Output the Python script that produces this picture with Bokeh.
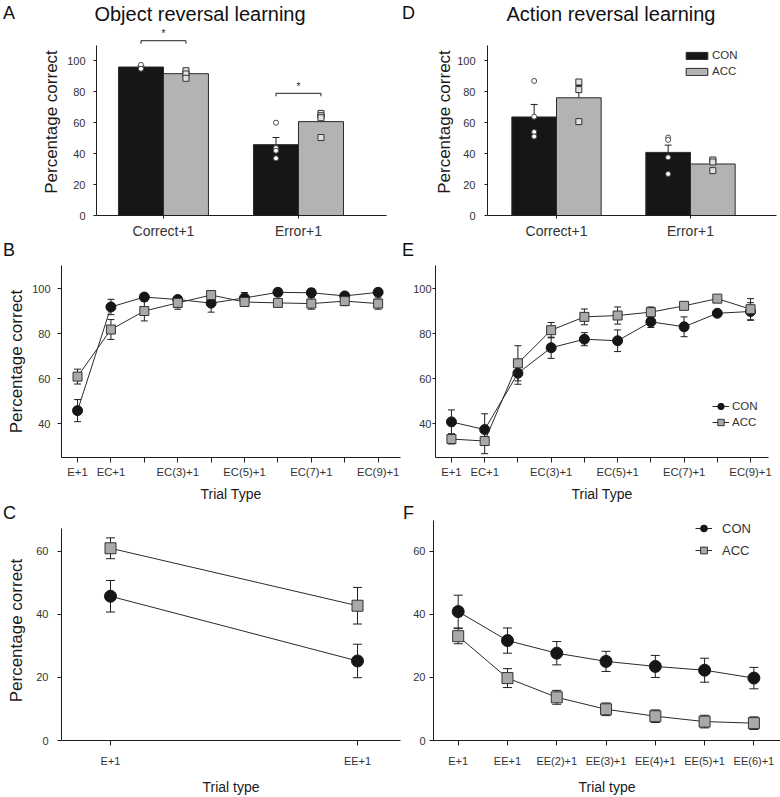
import numpy as np
from bokeh.plotting import figure
from bokeh.models import (ColumnDataSource, Whisker, TeeHead, Label, Legend, LegendItem,
                          FixedTicker, Range1d, Arrow, Div)
from bokeh.layouts import column, row
from bokeh.embed import file_html
from bokeh.resources import INLINE

# ---------------- data ----------------
bar_groups = ["Correct+1", "Error+1"]
bar_ticks = [0, 20, 40, 60, 80, 100]

# A: object reversal learning (bars, mean + SEM, individual animals)
obj_con_mean = [96.0, 45.8]
obj_con_sem = [0.7, 4.6]
obj_acc_mean = [91.7, 60.7]
obj_acc_sem = [0.9, 3.2]
obj_con_pts_correct = [97.4, 94.9]
obj_acc_pts_correct = [93.6, 91.5, 88.7]
obj_con_pts_error = [60.0, 43.6, 41.9, 37.0]
obj_acc_pts_error = [66.0, 64.5, 63.2, 50.4]
obj_sig_level = [113.0, 79.0]
obj_sig_text = ["*", "*"]

# D: action reversal learning
act_con_mean = [63.7, 40.8]
act_con_sem = [8.1, 4.7]
act_acc_mean = [76.1, 33.3]
act_acc_sem = [8.0, 2.5]
act_con_pts_correct = [87.0, 63.9, 54.0, 51.1]
act_acc_pts_correct = [86.3, 81.4, 60.7]
act_con_pts_error = [50.4, 48.9, 37.6, 26.9]
act_acc_pts_error = [35.9, 34.6, 29.0]

# B / E: trial sequences after an error
seq_labels = ["E+1", "EC+1", "", "EC(3)+1", "", "EC(5)+1", "", "EC(7)+1", "", "EC(9)+1"]
seq_ticks = [40, 60, 80, 100]
obj_seq_con = [45.9, 91.9, 96.3, 95.2, 93.6, 95.9, 98.4, 98.2, 96.8, 98.4]
obj_seq_con_err = [4.9, 3.4, 1.5, 1.2, 4.0, 2.4, 1.5, 1.8, 1.5, 1.5]
obj_seq_acc = [61.0, 81.9, 90.1, 93.7, 97.2, 94.1, 93.7, 93.4, 94.5, 93.4]
obj_seq_acc_err = [3.3, 4.4, 4.4, 2.8, 1.5, 1.0, 1.0, 2.5, 2.0, 2.5]

act_seq_con = [40.9, 37.5, 62.5, 73.8, 77.6, 76.9, 85.3, 83.1, 89.1, 89.9]
act_seq_con_err = [5.3, 7.0, 4.9, 4.7, 2.9, 4.8, 2.5, 4.4, 1.0, 3.9]
act_seq_acc = [33.3, 32.4, 66.9, 81.6, 87.5, 88.1, 89.6, 92.4, 95.6, 90.9]
act_seq_acc_err = [2.2, 5.6, 7.8, 3.4, 3.5, 3.8, 2.3, 1.0, 1.0, 4.7]

# C: object, consecutive errors
obj_ee_labels = ["E+1", "EE+1"]
obj_ee_con = [45.7, 25.2]
obj_ee_con_err = [5.0, 5.3]
obj_ee_acc = [60.9, 42.7]
obj_ee_acc_err = [3.3, 5.8]

# F: action, consecutive errors
act_ee_labels = ["E+1", "EE+1", "EE(2)+1", "EE(3)+1", "EE(4)+1", "EE(5)+1", "EE(6)+1"]
act_ee_con = [40.9, 31.7, 27.7, 25.1, 23.5, 22.3, 19.8]
act_ee_con_err = [5.2, 4.0, 3.7, 3.2, 3.5, 3.8, 3.4]
act_ee_acc = [33.1, 19.8, 13.7, 9.9, 7.7, 6.0, 5.5]
act_ee_acc_err = [2.4, 3.0, 2.2, 2.0, 2.0, 2.0, 2.0]
ee_ticks = [0, 20, 40, 60]

# ---------------- style ----------------
FONT = "Liberation Sans"
AX = "#1e1e1e"
TXT = "#333333"
CON_C = "#161616"
ACC_C = "#b3b3b3"
LINE_C = "#2b2b2b"


def make_fig(w, h, xr, yr, left, right, top, bottom):
    p = figure(width=w, height=h, x_range=Range1d(*xr), y_range=Range1d(*yr),
               output_backend="svg", toolbar_location=None, tools="",
               min_border_left=left, min_border_right=right,
               min_border_top=top, min_border_bottom=bottom, margin=0)
    p.outline_line_color = None
    p.xgrid.visible = False
    p.ygrid.visible = False
    p.background_fill_color = "white"
    p.border_fill_color = "white"
    return p


def style_axis(ax, tick_out, standoff, size, label=None, lsize=None, lstand=None):
    ax.axis_line_color = AX
    ax.axis_line_width = 1
    ax.major_tick_line_color = AX
    ax.major_tick_out = tick_out
    ax.major_tick_in = 0
    ax.minor_tick_line_color = None
    ax.major_label_standoff = standoff
    ax.major_label_text_font = FONT
    ax.major_label_text_font_size = size
    ax.major_label_text_color = TXT
    if label:
        ax.axis_label = label
        ax.axis_label_text_font = FONT
        ax.axis_label_text_font_size = lsize
        ax.axis_label_text_font_style = "normal"
        ax.axis_label_text_color = "#1a1a1a"
        ax.axis_label_standoff = lstand


def text_div(w, h, items):
    spans = []
    for txt, left, top, size, width, align in items:
        wcss = f"width:{width}px;" if width else ""
        spans.append(
            f'<span style="position:absolute;left:{left}px;top:{top}px;{wcss}'
            f'text-align:{align};font-family:\'Liberation Sans\',Arial,sans-serif;'
            f'font-size:{size}px;line-height:{size}px;color:#111;white-space:nowrap;">{txt}</span>')
    html = (f'<div style="position:relative;width:{w}px;height:{h}px;overflow:visible;">'
            + "".join(spans) + "</div>")
    return Div(text=html, width=w, height=h, margin=0, styles={"overflow": "visible"})


def bar_panel(p, con_mean, con_sem, acc_mean, acc_sem, con_pts, acc_pts):
    gx = np.arange(1, len(bar_groups) + 1, dtype=float)
    off, bw = 1 / 6, 1 / 3
    rends = []
    for sign, mean, sem, fill in [(-1, con_mean, con_sem, CON_C), (1, acc_mean, acc_sem, ACC_C)]:
        src = ColumnDataSource(dict(x=gx + sign * off, top=mean,
                                    up=np.array(mean) + np.array(sem)))
        r = p.vbar(x="x", top="top", bottom=0, width=bw, source=src,
                   fill_color=fill, line_color="#2a2a2a", line_width=1)
        rends.append(r)
        p.add_layout(Whisker(source=src, base="x", lower="top", upper="up",
                             line_color=AX, line_width=1, lower_head=None,
                             upper_head=TeeHead(size=7, line_color=AX, line_width=1)))
    for i, pts in enumerate(con_pts):
        p.scatter([gx[i] - off] * len(pts), pts, marker="circle", size=5,
                  fill_color="white", line_color="#4a4a4a", line_width=1)
    for i, pts in enumerate(acc_pts):
        p.scatter([gx[i] + off] * len(pts), pts, marker="square", size=6,
                  fill_color="#e2e2e2", line_color="#333333", line_width=1)
    p.xaxis.ticker = FixedTicker(ticks=list(gx))
    p.xaxis.major_label_overrides = {int(g): lab for g, lab in zip(gx, bar_groups)}
    p.yaxis.ticker = FixedTicker(ticks=bar_ticks)
    p.yaxis.bounds = (0, 110)
    return gx, off, rends


def line_panel(p, con, con_err, acc, acc_err, csize, ssize, cap):
    xs = np.arange(1, len(con) + 1, dtype=float)
    out = []
    for mean, err, marker, size, fill, lc in [
            (con, con_err, "circle", csize, CON_C, CON_C),
            (acc, acc_err, "square", ssize, "#a9a9a9", "#333333")]:
        m = np.array(mean)
        e = np.array(err)
        src = ColumnDataSource(dict(x=xs, y=m, lo=m - e, hi=m + e))
        p.add_layout(Whisker(source=src, base="x", lower="lo", upper="hi",
                             line_color=AX, line_width=1,
                             lower_head=TeeHead(size=cap, line_color=AX, line_width=1),
                             upper_head=TeeHead(size=cap, line_color=AX, line_width=1)))
        ln = p.line("x", "y", source=src, line_color=LINE_C, line_width=1)
        sc = p.scatter("x", "y", source=src, marker=marker, size=size,
                       fill_color=fill, line_color=lc, line_width=1)
        out.append((ln, sc))
    return xs, out


# ---------------- header (panel letters + titles) ----------------
div1 = text_div(780, 28, [("A", 3, 4, 18, None, "left"),
                          ("Object reversal learning", 50, 4, 20, 300, "center"),
                          ("D", 402, 4, 18, None, "left"),
                          ("Action reversal learning", 461, 4, 20, 300, "center")])
div2 = text_div(780, 18, [("B", 3, 0, 18, None, "left"), ("E", 402, 0, 18, None, "left")])
div3 = text_div(780, 16, [("C", 3, 0, 18, None, "left"), ("F", 403, 0, 18, None, "left")])

# ---------------- A ----------------
pA = make_fig(390, 213, (0.504, 2.652), (0, 120.9), 96, 4, 0, 24)
gxA, offA, _ = bar_panel(pA, obj_con_mean, obj_con_sem, obj_acc_mean, obj_acc_sem,
                         [obj_con_pts_correct, obj_con_pts_error],
                         [obj_acc_pts_correct, obj_acc_pts_error])
style_axis(pA.yaxis[0], 3, 8, "11px", "Percentage correct", "17px", 3)
style_axis(pA.xaxis[0], 3, 4, "14px")
tick = 3 / 1.563
for g, lvl, txt in zip(gxA, obj_sig_level, obj_sig_text):
    x0, x1 = g - offA, g + offA
    for xa, ya, xb, yb in [(x0, lvl, x1, lvl), (x0, lvl, x0, lvl - tick), (x1, lvl, x1, lvl - tick)]:
        pA.add_layout(Arrow(x_start=xa, y_start=ya, x_end=xb, y_end=yb, start=None, end=None,
                            line_color=AX, line_width=1))
    pA.add_layout(Label(x=g, y=lvl, text=txt, text_font=FONT, text_font_size="10px",
                        text_align="center", text_baseline="middle", y_offset=7,
                        text_color="#222222"))

# ---------------- D ----------------
pD = make_fig(390, 213, (0.485, 2.642), (0, 120.9), 97, 4, 0, 24)
gxD, offD, rD = bar_panel(pD, act_con_mean, act_con_sem, act_acc_mean, act_acc_sem,
                          [act_con_pts_correct, act_con_pts_error],
                          [act_acc_pts_correct, act_acc_pts_error])
style_axis(pD.yaxis[0], 3, 9, "11px", "Percentage correct", "17px", 0)
style_axis(pD.xaxis[0], 3, 4, "14px")
legD = Legend(items=[LegendItem(label="CON", renderers=[rD[0]]),
                     LegendItem(label="ACC", renderers=[rD[1]])],
              location=(196, 138), padding=0, margin=0, spacing=4,
              glyph_width=27, glyph_height=9, label_height=9, label_standoff=2,
              label_text_font=FONT, label_text_font_size="11.5px", label_text_color=TXT,
              border_line_color=None, background_fill_alpha=0)
pD.add_layout(legD)

# ---------------- B ----------------
pB = make_fig(410, 245, (0.52, 10.67), (25.1, 110.3), 61, 10, 6, 46)
xsB, _ = line_panel(pB, obj_seq_con, obj_seq_con_err, obj_seq_acc, obj_seq_acc_err, 10, 9, 7)
pB.xaxis.ticker = FixedTicker(ticks=list(xsB))
pB.xaxis.major_label_overrides = {int(x): lab for x, lab in zip(xsB, seq_labels)}
pB.yaxis.ticker = FixedTicker(ticks=seq_ticks)
style_axis(pB.yaxis[0], 4, 7, "11px", "Percentage correct", "17px", 3)
style_axis(pB.xaxis[0], 5, 3, "11.3px", "Trial Type", "14px", 5)

# ---------------- E ----------------
pE = make_fig(370, 245, (0.52, 10.54), (25.1, 110.3), 23, 12, 6, 46)
xsE, rE = line_panel(pE, act_seq_con, act_seq_con_err, act_seq_acc, act_seq_acc_err, 10, 9, 7)
pE.xaxis.ticker = FixedTicker(ticks=list(xsE))
pE.xaxis.major_label_overrides = {int(x): lab for x, lab in zip(xsE, seq_labels)}
pE.yaxis.ticker = FixedTicker(ticks=seq_ticks)
style_axis(pE.yaxis[0], 3, 1, "11px")
style_axis(pE.xaxis[0], 5, 3, "11.3px", "Trial Type", "14px", 5)
legE = Legend(items=[LegendItem(label="CON", renderers=list(rE[0])),
                     LegendItem(label="ACC", renderers=list(rE[1]))],
              location=(277, 27), padding=0, margin=0, spacing=0,
              glyph_width=17, glyph_height=16, label_height=16, label_standoff=3,
              label_text_font=FONT, label_text_font_size="11.5px", label_text_color=TXT,
              border_line_color=None, background_fill_alpha=0)
pE.add_layout(legE)

# ---------------- C ----------------
pC = make_fig(410, 277, (0.8016, 2.174), (0, 69.7), 61, 10, 0, 54)
xsC, _ = line_panel(pC, obj_ee_con, obj_ee_con_err, obj_ee_acc, obj_ee_acc_err, 12, 11, 9)
pC.xaxis.ticker = FixedTicker(ticks=list(xsC))
pC.xaxis.major_label_overrides = {int(x): lab for x, lab in zip(xsC, obj_ee_labels)}
pC.yaxis.ticker = FixedTicker(ticks=ee_ticks)
pC.yaxis.bounds = (0, 67.2)
style_axis(pC.yaxis[0], 4, 9, "11px", "Percentage correct", "17px", 7)
style_axis(pC.xaxis[0], 5, 9, "11px", "Trial type", "14px", 9)

# ---------------- F ----------------
pF = make_fig(370, 277, (0.499, 7.54), (0, 69.8), 23, 0, 0, 54)
xsF, rF = line_panel(pF, act_ee_con, act_ee_con_err, act_ee_acc, act_ee_acc_err, 12, 11, 9)
pF.xaxis.ticker = FixedTicker(ticks=list(xsF))
pF.xaxis.major_label_overrides = {int(x): lab for x, lab in zip(xsF, act_ee_labels)}
pF.yaxis.ticker = FixedTicker(ticks=ee_ticks)
style_axis(pF.yaxis[0], 4, 4, "11px")
style_axis(pF.xaxis[0], 5, 9, "11px", "Trial type", "14px", 9)
legF = Legend(items=[LegendItem(label="CON", renderers=list(rF[0])),
                     LegendItem(label="ACC", renderers=list(rF[1]))],
              location=(262, 180), padding=0, margin=0, spacing=2,
              glyph_width=17, glyph_height=20, label_height=20, label_standoff=10,
              label_text_font=FONT, label_text_font_size="13px", label_text_color=TXT,
              border_line_color=None, background_fill_alpha=0)
pF.add_layout(legF)

layout = column(div1, row(pA, pD), div2, row(pB, pE), div3, row(pC, pF))
open("out.html", "w").write(file_html(layout, INLINE))
